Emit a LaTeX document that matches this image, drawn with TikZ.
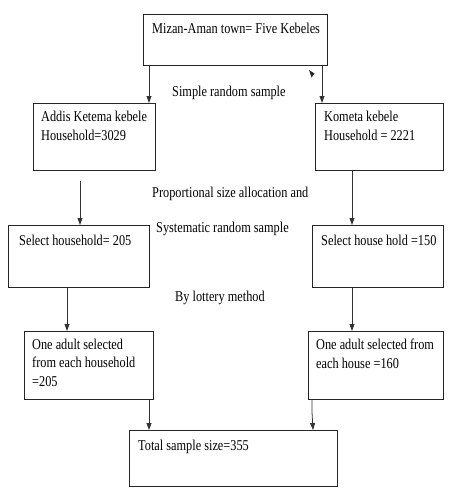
\documentclass[tikz,border=0pt]{standalone}
\usepackage{fontspec}
\setmainfont{Liberation Serif}[FakeStretch=0.82]
\usetikzlibrary{arrows.meta}
\begin{document}
\begin{tikzpicture}[x=1pt,y=-1pt,
  box/.style={draw=black!85, line width=0.8pt, rectangle, inner sep=0pt, anchor=north west},
  txt/.style={anchor=base west, inner sep=0pt, font=\fontsize{15}{18.5}\selectfont, align=left},
  lbl/.style={anchor=base west, inner sep=0pt, font=\fontsize{15}{18.5}\selectfont},
  arr/.style={draw=black!80, line width=0.8pt, -{Triangle[length=7pt,width=5pt]}}]
\useasboundingbox (0,0) rectangle (457,496);
% boxes
\node[box, minimum width=184pt, minimum height=51pt] (top) at (143,14) {};
\node[box, minimum width=122pt, minimum height=67pt] (addis) at (33,103) {};
\node[box, minimum width=128pt, minimum height=67pt] (kometa) at (315,103) {};
\node[box, minimum width=141pt, minimum height=62pt] (selL) at (8,225) {};
\node[box, minimum width=131pt, minimum height=62pt] (selR) at (312,225) {};
\node[box, minimum width=129pt, minimum height=68pt] (oneL) at (24,331) {};
\node[box, minimum width=135pt, minimum height=68pt] (oneR) at (308,331) {};
\node[box, minimum width=208pt, minimum height=56pt] (total) at (129,430) {};
% box texts (base = baseline of last line)
\node[txt] (ttop) at (152,33) {Mizan-Aman town= Five Kebeles};
\node[txt] (taddis) at (41,140) {Addis Ketema kebele\\Household=3029};
\node[txt] (tkometa) at (324,140) {Kometa kebele\\Household = 2221};
\node[txt] (tselL) at (19,245) {Select household= 205};
\node[txt] (tselR) at (321,245) {Select house hold =150};
\node[txt] (toneL) at (32,386) {One adult selected\\from each household\\=205};
\node[txt] (toneR) at (316,368) {One adult selected from\\each house =160};
\node[txt] (ttotal) at (138,450) {Total sample size=355};
% labels
\node[lbl] (l1) at (172,96) {Simple random sample};
\node[lbl] (l2) at (152,197) {Proportional size allocation and};
\node[lbl] (l3) at (156,232) {Systematic random sample};
\node[lbl] (l4) at (175,301) {By lottery method};
% connectors
\draw[arr] (top.south west -| 149,0) -- (addis.north -| 149,0);
\draw[arr] (top.south -| 322,0) -- (kometa.north -| 322,0);
\draw[arr] (addis.south -| 80,0) ++(0,10) -- (selL.north -| 80,0);
\draw[arr] (kometa.south -| 352,0) -- (selR.north -| 352,0);
\draw[arr] (selL.south -| 67,0) -- (oneL.north -| 67,0);
\draw[arr] (selR.south -| 352,0) -- (oneR.north -| 352,0);
\draw[arr] (oneL.south -| 149,0) -- (total.north -| 149,0);
\coordinate (kink) at (312,412);
\draw[arr] (oneR.south -| 312,0) -- (kink) -- (total.north -| 313,0);
% stray arrowhead
\fill[black!85] (309,70) -- (314.5,73.5) -- (311.5,77.5) -- cycle;
\end{tikzpicture}
\end{document}
